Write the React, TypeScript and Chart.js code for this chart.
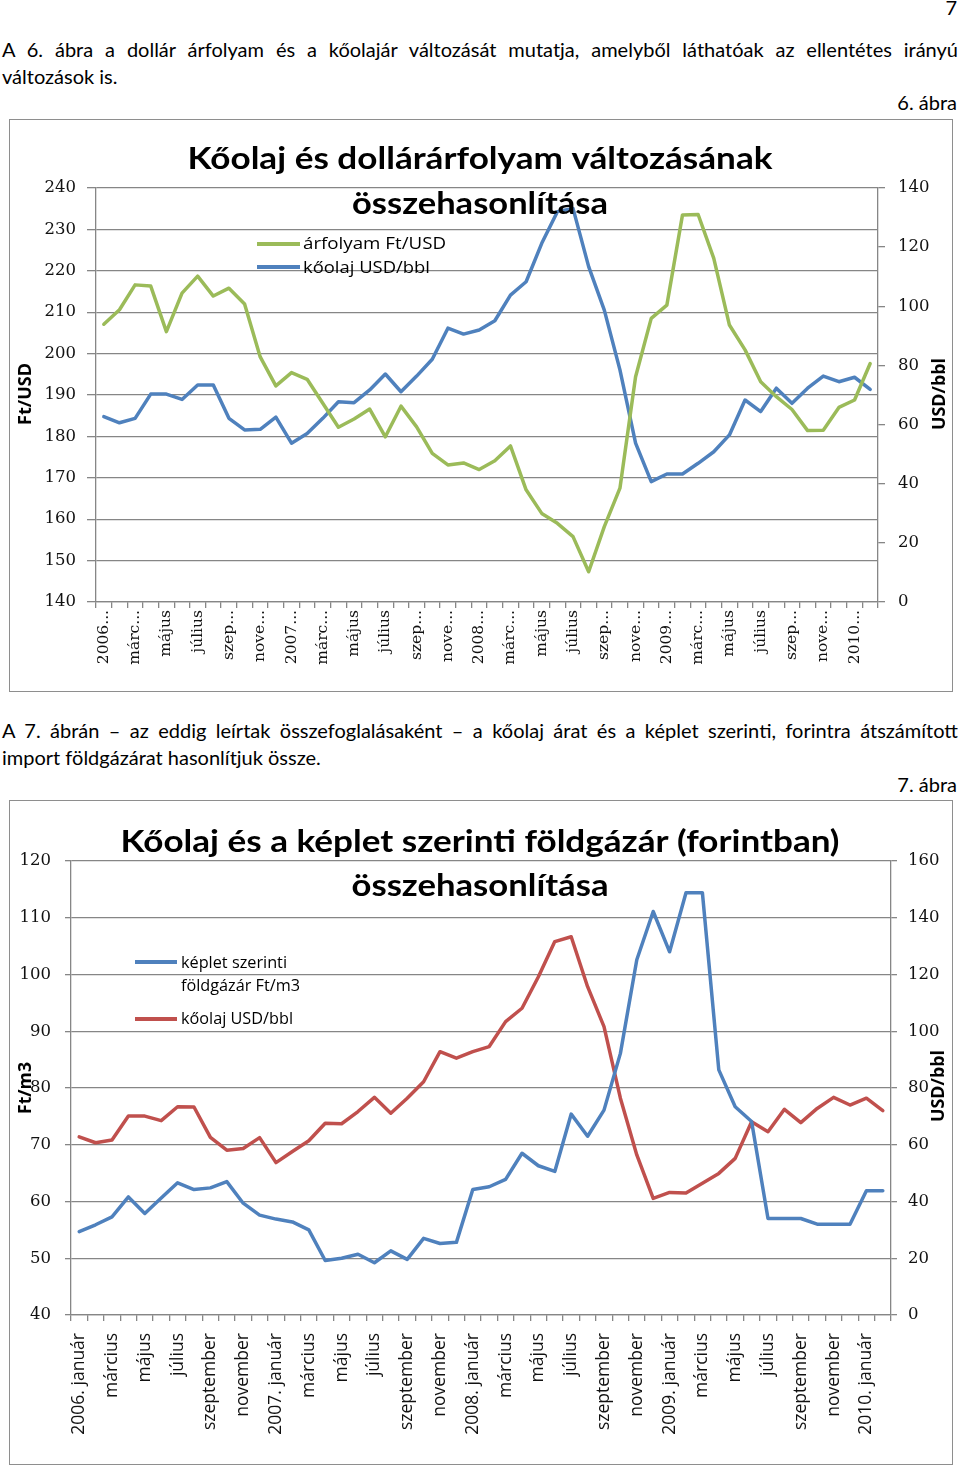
import React, { useEffect, useRef, useState } from 'react';
import { Chart, registerables } from 'chart.js';

Chart.register(...registerables);

const months = [
  '2006-01', '2006-02', '2006-03', '2006-04', '2006-05', '2006-06', '2006-07', '2006-08', '2006-09', '2006-10', '2006-11', '2006-12',
  '2007-01', '2007-02', '2007-03', '2007-04', '2007-05', '2007-06', '2007-07', '2007-08', '2007-09', '2007-10', '2007-11', '2007-12',
  '2008-01', '2008-02', '2008-03', '2008-04', '2008-05', '2008-06', '2008-07', '2008-08', '2008-09', '2008-10', '2008-11', '2008-12',
  '2009-01', '2009-02', '2009-03', '2009-04', '2009-05', '2009-06', '2009-07', '2009-08', '2009-09', '2009-10', '2009-11', '2009-12',
  '2010-01', '2010-02',
];

const tickLabels1 = [
  '2006...', 'márc...', 'május', 'július', 'szep...', 'nove...',
  '2007...', 'márc...', 'május', 'július', 'szep...', 'nove...',
  '2008...', 'márc...', 'május', 'július', 'szep...', 'nove...',
  '2009...', 'márc...', 'május', 'július', 'szep...', 'nove...',
  '2010...',
];

const tickLabels2 = [
  '2006. január', 'március', 'május', 'július', 'szeptember', 'november',
  '2007. január', 'március', 'május', 'július', 'szeptember', 'november',
  '2008. január', 'március', 'május', 'július', 'szeptember', 'november',
  '2009. január', 'március', 'május', 'július', 'szeptember', 'november',
  '2010. január',
];

const exchangeRate = [
  207.1, 210.6, 216.6, 216.3, 205.3, 214.6, 218.7, 213.9, 215.8, 212.0, 199.2, 192.2,
  195.4, 193.8, 188.0, 182.2, 184.2, 186.6, 179.9, 187.3, 182.3, 175.9, 173.1, 173.6,
  172.0, 174.1, 177.7, 167.1, 161.4, 159.0, 155.8, 147.3, 158.2, 167.5, 194.4, 208.5,
  211.7, 233.5, 233.6, 223.0, 206.9, 200.9, 193.2, 189.6, 186.5, 181.4, 181.5, 187.0,
  188.8, 197.6,
];

const oilPrice1 = [
  62.7, 60.6, 62.1, 70.3, 70.3, 68.5, 73.4, 73.4, 62.1, 58.2, 58.4, 62.5,
  53.7, 57.0, 62.1, 67.7, 67.4, 71.7, 77.1, 71.1, 76.4, 82.1, 92.6, 90.6,
  92.0, 95.1, 103.8, 108.3, 121.3, 132.0, 133.1, 113.4, 98.7, 78.5, 53.7, 40.7,
  43.3, 43.3, 46.9, 50.8, 56.5, 68.3, 64.4, 72.3, 67.2, 72.3, 76.4, 74.5,
  76.0, 71.9,
];

const gasPrice = [
  54.7, 55.9, 57.3, 60.8, 57.9, 60.6, 63.3, 62.1, 62.4, 63.5, 59.7, 57.6,
  56.9, 56.4, 55.0, 49.6, 50.0, 50.7, 49.2, 51.3, 49.8, 53.5, 52.6, 52.8,
  62.1, 62.6, 63.9, 68.5, 66.3, 65.3, 75.4, 71.5, 76.1, 86.1, 102.6, 111.1,
  104.0, 114.4, 114.4, 83.2, 76.7, 74.1, 57.0, 57.0, 57.0, 56.0, 56.0, 56.0,
  61.9, 61.9,
];

const oilPrice2 = [
  62.8, 60.7, 61.7, 70.1, 70.1, 68.5, 73.4, 73.3, 62.6, 58.1, 58.7, 62.5,
  53.7, 57.6, 61.4, 67.6, 67.4, 71.7, 76.7, 71.1, 76.4, 82.2, 92.8, 90.5,
  92.8, 94.6, 103.4, 108.1, 119.2, 131.6, 133.3, 115.7, 101.6, 76.4, 56.4, 41.1,
  43.2, 43.0, 46.4, 49.9, 55.2, 68.1, 64.6, 72.5, 67.8, 72.8, 76.7, 74.0,
  76.4, 72.0,
];

const GREEN = '#9BBB59';
const BLUE = '#4F81BD';
const RED = '#C0504D';
const GRID = '#868686';
const TXT = '#111';
const PAGE_FONT = 'Lato, "Open Sans", sans-serif';
const SANS = '"Open Sans", Lato, sans-serif';
const TITLE_FONT = 'Lato, "Open Sans", sans-serif';
const SERIF = '"DejaVu Serif", serif';

type OText = {
  text: string; x: number; y: number; size: number; family: string;
  weight?: string; width?: number; align?: CanvasTextAlign; rotate?: boolean;
};
type OLine = { x1: number; x2: number; y: number; color: string };

function makeOverlay(id: string, ox: number, oy: number, lines: OLine[], texts: OText[]) {
  return {
    id,
    afterDraw(chart: any) {
      const ctx = chart.ctx as CanvasRenderingContext2D;
      ctx.save();
      lines.forEach((l) => {
        ctx.strokeStyle = l.color;
        ctx.lineWidth = 4;
        ctx.lineCap = 'butt';
        ctx.beginPath();
        ctx.moveTo(l.x1 - ox, l.y - oy);
        ctx.lineTo(l.x2 - ox, l.y - oy);
        ctx.stroke();
      });
      texts.forEach((t) => {
        ctx.save();
        ctx.font = `${t.weight || 'normal'} ${t.size}px ${t.family}`;
        ctx.fillStyle = '#000';
        ctx.textBaseline = 'alphabetic';
        ctx.textAlign = t.align || 'left';
        const m = ctx.measureText(t.text).width || 1;
        const sx = t.width ? t.width / m : 1;
        ctx.translate(t.x - ox, t.y - oy);
        if (t.rotate) ctx.rotate(-Math.PI / 2);
        ctx.scale(sx, 1);
        ctx.fillText(t.text, 0, 0);
        ctx.restore();
      });
      ctx.restore();
    },
  };
}

function axisX(labels: string[], height: number, padding: number, family: string, size: number) {
  return {
    type: 'category',
    offset: true,
    grid: { offset: true, drawOnChartArea: false, tickLength: 6, color: GRID, lineWidth: 1.3 },
    border: { display: true, color: GRID, width: 1.3 },
    ticks: {
      autoSkip: false, minRotation: 90, maxRotation: 90, padding, color: TXT,
      font: { family, size },
      callback: (_v: any, i: number) => (i % 2 === 0 ? labels[i / 2] : ''),
    },
    afterFit: (s: any) => { s.height = height; },
  };
}

function axisY(position: string, min: number, max: number, step: number, padding: number, tickLength: number, width: number, onArea: boolean) {
  return {
    position, min, max,
    ticks: { stepSize: step, padding, color: TXT, font: { family: SERIF, size: 16.5 } },
    grid: { drawOnChartArea: onArea, color: GRID, lineWidth: 1.3, tickLength },
    border: { display: true, color: GRID, width: 1.3 },
    afterFit: (s: any) => { s.width = width; },
  };
}

function baseOptions(padTop: number, scales: any) {
  return {
    responsive: false,
    animation: false,
    devicePixelRatio: 1,
    layout: { padding: { top: padTop, left: 0, right: 0, bottom: 0 } },
    plugins: { legend: { display: false }, title: { display: false }, tooltip: { enabled: false } },
    elements: {
      point: { radius: 0, hoverRadius: 0 },
      line: { borderWidth: 3.5, tension: 0, borderJoinStyle: 'round', borderCapStyle: 'round' },
    },
    scales,
  };
}

function config1(): any {
  const overlay = makeOverlay('overlay1', 9, 119,
    [
      { x1: 257, x2: 300, y: 244, color: GREEN },
      { x1: 257, x2: 300, y: 267, color: BLUE },
    ],
    [
      { text: 'Kőolaj és dollárárfolyam változásának', x: 480, y: 169, size: 31, weight: 'bold', family: TITLE_FONT, width: 585, align: 'center' },
      { text: 'összehasonlítása', x: 480, y: 214, size: 31, weight: 'bold', family: TITLE_FONT, width: 256, align: 'center' },
      { text: 'árfolyam Ft/USD', x: 303, y: 249, size: 17, family: SANS, width: 143 },
      { text: 'kőolaj USD/bbl', x: 303, y: 273, size: 17, family: SANS, width: 127 },
      { text: 'Ft/USD', x: 31, y: 394, size: 17, weight: 'bold', family: SANS, width: 62, align: 'center', rotate: true },
      { text: 'USD/bbl', x: 945, y: 394, size: 17, weight: 'bold', family: SANS, width: 72, align: 'center', rotate: true },
    ]);
  return {
    type: 'line',
    data: {
      labels: months,
      datasets: [
        { label: 'árfolyam Ft/USD', data: exchangeRate, borderColor: GREEN, backgroundColor: GREEN, yAxisID: 'y' },
        { label: 'kőolaj USD/bbl', data: oilPrice1, borderColor: BLUE, backgroundColor: BLUE, yAxisID: 'y1' },
      ],
    },
    options: baseOptions(69, {
      x: axisX(tickLabels1, 90, 2, SERIF, 15.5),
      y: axisY('left', 140, 240, 10, 11, 9, 87, true),
      y1: axisY('right', 0, 140, 20, 13, 7, 75, false),
    }),
    plugins: [overlay],
  };
}

function config2(): any {
  const overlay = makeOverlay('overlay2', 9, 800,
    [
      { x1: 135, x2: 177, y: 962, color: BLUE },
      { x1: 135, x2: 177, y: 1019, color: RED },
    ],
    [
      { text: 'Kőolaj és a képlet szerinti földgázár (forintban)', x: 480, y: 852, size: 31, weight: 'bold', family: TITLE_FONT, width: 719, align: 'center' },
      { text: 'összehasonlítása', x: 480, y: 896, size: 31, weight: 'bold', family: TITLE_FONT, width: 257, align: 'center' },
      { text: 'képlet szerinti', x: 181, y: 968, size: 16, family: SANS, width: 106 },
      { text: 'földgázár Ft/m3', x: 181, y: 991, size: 16, family: SANS, width: 119 },
      { text: 'kőolaj USD/bbl', x: 181, y: 1024, size: 16, family: SANS, width: 112 },
      { text: 'Ft/m3', x: 31, y: 1088, size: 17, weight: 'bold', family: SANS, width: 52, align: 'center', rotate: true },
      { text: 'USD/bbl', x: 944, y: 1086, size: 17, weight: 'bold', family: SANS, width: 72, align: 'center', rotate: true },
    ]);
  return {
    type: 'line',
    data: {
      labels: months,
      datasets: [
        { label: 'képlet szerinti földgázár Ft/m3', data: gasPrice, borderColor: BLUE, backgroundColor: BLUE, yAxisID: 'y' },
        { label: 'kőolaj USD/bbl', data: oilPrice2, borderColor: RED, backgroundColor: RED, yAxisID: 'y1' },
      ],
    },
    options: baseOptions(61, {
      x: axisX(tickLabels2, 150, 12, SANS, 17.5),
      y: axisY('left', 40, 120, 10, 14, 6, 62, true),
      y1: axisY('right', 0, 160, 20, 11, 6, 62, false),
    }),
    plugins: [overlay],
  };
}

function ChartBox({ left, top, width, height, make }: { left: number; top: number; width: number; height: number; make: () => any }) {
  const ref = useRef<HTMLCanvasElement | null>(null);
  const [err, setErr] = useState('');
  useEffect(() => {
    if (!ref.current) return;
    let chart: Chart | null = null;
    try {
      chart = new Chart(ref.current, make());
    } catch (e: any) {
      setErr(String(e && e.stack ? e.stack : e));
    }
    return () => { if (chart) chart.destroy(); };
  }, [make]);
  return (
    <React.Fragment>
      <div style={{ position: 'absolute', left, top, width, height, boxSizing: 'border-box', border: '1px solid #8e8e8e' }} />
      <canvas ref={ref} width={width} height={height} style={{ position: 'absolute', left, top, width, height }} />
      {err ? <pre style={{ position: 'absolute', left, top, fontSize: 11, color: 'red', whiteSpace: 'pre-wrap', width }}>{err}</pre> : null}
    </React.Fragment>
  );
}

function TextLine({ top, left, width, align, text }: { top: number; left: number; width: number; align: string; text: string }) {
  const style: any = {
    position: 'absolute', top, left, width,
    fontFamily: PAGE_FONT, fontSize: 20, lineHeight: '20px', color: '#000',
    textAlign: align,
    whiteSpace: align === 'justify' ? 'normal' : 'nowrap',
  };
  if (align === 'justify') style.textAlignLast = 'justify';
  return <div style={style}>{text}</div>;
}

export default function App() {
  return (
    <div>
      <TextLine top={-3} left={900} width={57} align="right" text="7" />
      <TextLine top={39} left={2} width={956} align="justify" text="A 6. ábra a dollár árfolyam és a kőolajár változását mutatja, amelyből láthatóak az ellentétes irányú" />
      <TextLine top={66} left={2} width={600} align="left" text="változások is." />
      <TextLine top={92} left={700} width={257} align="right" text="6. ábra" />
      <ChartBox left={9} top={119} width={944} height={573} make={config1} />
      <TextLine top={720} left={2} width={956} align="justify" text="A 7. ábrán – az eddig leírtak összefoglalásaként – a kőolaj árat és a képlet szerinti, forintra átszámított" />
      <TextLine top={747} left={2} width={600} align="left" text="import földgázárat hasonlítjuk össze." />
      <TextLine top={774} left={700} width={257} align="right" text="7. ábra" />
      <ChartBox left={9} top={800} width={944} height={665} make={config2} />
    </div>
  );
}
